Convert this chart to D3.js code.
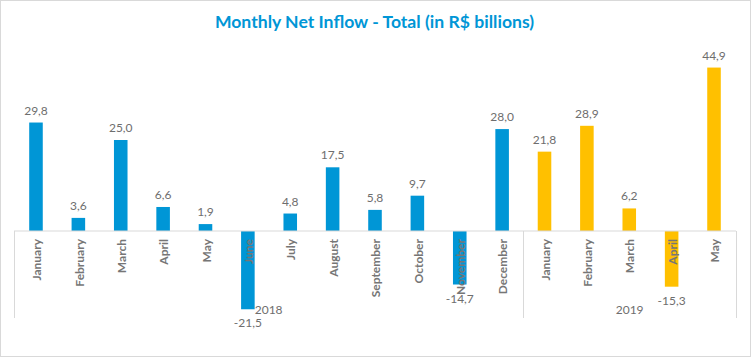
<!DOCTYPE html>
<html>
<head>
<meta charset="utf-8">
<script src="https://cdn.jsdelivr.net/npm/d3@7"></script>
<style>
  html, body { margin: 0; padding: 0; background: #fff; }
  svg { display: block; font-family: Lato, "Open Sans", sans-serif; }
</style>
</head>
<body>
<svg id="chart" width="751" height="357"></svg>
<script>
// ---- data ----
const title = "Monthly Net Inflow - Total (in R$ billions)";
const months2018 = ["January","February","March","April","May","June","July","August","September","October","November","December"];
const values2018 = [29.8, 3.6, 25.0, 6.6, 1.9, -21.5, 4.8, 17.5, 5.8, 9.7, -14.7, 28.0];
const months2019 = ["January","February","March","April","May"];
const values2019 = [21.8, 28.9, 6.2, -15.3, 44.9];
const years = ["2018", "2019"];

// ---- build rows ----
const rows = [];
months2018.forEach((m, i) => rows.push({ key: "2018-" + i, month: m, year: "2018", value: values2018[i] }));
months2019.forEach((m, i) => rows.push({ key: "2019-" + i, month: m, year: "2019", value: values2019[i] }));

const colors = { "2018": "#0096d6", "2019": "#ffc000" };
const gridColor = "#d9d9d9";
const textGray = "#767676";
const valueGray = "#6e6e6e";

const svg = d3.select("#chart");

// outer border
svg.append("rect")
  .attr("x", 0.5).attr("y", 0.5).attr("width", 750).attr("height", 356)
  .attr("fill", "#fff").attr("stroke", gridColor);

// title
svg.append("text")
  .attr("x", 374.5).attr("y", 27.5)
  .attr("text-anchor", "middle")
  .attr("font-size", 17.6).attr("font-weight", 700)
  .attr("fill", "#0096d6")
  .text(title);

// scales
const x = d3.scaleBand()
  .domain(rows.map(d => d.key))
  .range([14.8, 735.2])
  .paddingInner(0.68)
  .paddingOuter(0.34);

const y = d3.scaleLinear().domain([-30, 50]).range([340.2, 49]);
const y0 = y(0);

// bars
svg.append("g").selectAll("rect")
  .data(rows).join("rect")
  .attr("x", d => x(d.key))
  .attr("width", x.bandwidth())
  .attr("y", d => Math.min(y(d.value), y0))
  .attr("height", d => Math.abs(y(d.value) - y0))
  .attr("fill", d => colors[d.year]);

// axis line
svg.append("line")
  .attr("x1", 14).attr("x2", 736)
  .attr("y1", y0).attr("y2", y0)
  .attr("stroke", gridColor).attr("stroke-width", 1);

// group separators
const lastKey = rows[rows.length - 1].key;
const step = x.step();
const gap = (step - x.bandwidth()) / 2;
const sepXs = [
  x(rows[0].key) - gap - 0.8,
  (x("2018-11") + x("2019-0") + x.bandwidth()) / 2,
  x(lastKey) + x.bandwidth() + gap + 0.8
];
svg.append("g").selectAll("line")
  .data(sepXs).join("line")
  .attr("x1", d => Math.round(d) + 0.5).attr("x2", d => Math.round(d) + 0.5)
  .attr("y1", y0).attr("y2", 318)
  .attr("stroke", gridColor);

// category labels
svg.append("g").selectAll("text")
  .data(rows).join("text")
  .attr("transform", d => `translate(${x(d.key) + x.bandwidth() / 2 + 1},239) rotate(-90)`)
  .attr("text-anchor", "end")
  .attr("dy", "0.35em")
  .attr("font-size", 12).attr("font-weight", 700)
  .attr("fill", textGray)
  .text(d => d.month);

// year labels
const yearCenters = [
  (sepXs[0] + sepXs[1]) / 2,
  (sepXs[1] + sepXs[2]) / 2
];
svg.append("g").selectAll("text")
  .data(years).join("text")
  .attr("x", (d, i) => yearCenters[i])
  .attr("y", 314)
  .attr("text-anchor", "middle")
  .attr("font-size", 12)
  .attr("fill", valueGray)
  .text(d => d);

// value labels
const fmt = v => v.toFixed(1).replace(".", ",");
svg.append("g").selectAll("text")
  .data(rows).join("text")
  .attr("x", d => x(d.key) + x.bandwidth() / 2)
  .attr("y", d => d.value >= 0 ? y(d.value) - 8 : y(d.value) + 18)
  .attr("text-anchor", "middle")
  .attr("font-size", 12)
  .attr("fill", valueGray)
  .text(d => fmt(d.value));
</script>
</body>
</html>
